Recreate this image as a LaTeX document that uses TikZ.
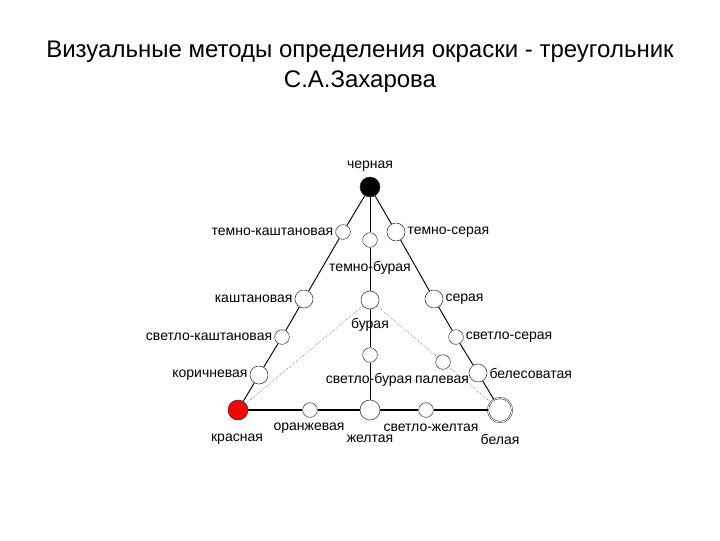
\documentclass[tikz,border=0pt]{standalone}
\usepackage{fontspec}
\setmainfont{Liberation Sans}
\usepackage{tikz}
\usetikzlibrary{positioning, calc}

\tikzset{
  spot/.style={circle, draw=black!80, thin, fill=white, inner sep=0pt, minimum size=#1},
  lbl/.style={font=\fontsize{10.5}{12}\selectfont, inner sep=1.5pt},
  edge/.style={line width=0.7pt},
  base/.style={line width=2.2pt},
  guide/.style={thin, densely dotted, black!70}
}

\begin{document}
\begin{tikzpicture}[x=0.75pt, y=-0.75pt]

\useasboundingbox (0, 0) rectangle (720, 540);

% Title
\node [font=\fontsize{18}{21}\selectfont] (title1) at (360, 52) {Визуальные методы определения окраски - треугольник};
\node [font=\fontsize{18}{21}\selectfont] (title2) at (360, 82) {С.А.Захарова};

% Corners
\node [spot=15pt, fill=black] (cherna) at (370, 187) {};
\node [spot=15pt, fill=red] (krasn) at (238, 410) {};
\node [spot=18pt, double, double distance=0.6pt] (bel) at (500, 410) {};

% Left side
\node [spot=11pt] (tkasht) at (343, 232) {};
\node [spot=13.5pt] (kasht) at (304, 299) {};
\node [spot=11pt] (skasht) at (282, 337) {};
\node [spot=13.5pt] (korich) at (259, 375) {};

% Right side
\node [spot=13.5pt] (tser) at (396, 232) {};
\node [spot=13.5pt] (ser) at (434, 299) {};
\node [spot=11pt] (sser) at (456, 337) {};
\node [spot=13.5pt] (beles) at (478, 373) {};

% Middle
\node [spot=11pt] (tbur) at (370, 240) {};
\node [spot=13.5pt] (bur) at (370, 300) {};
\node [spot=11pt] (sbur) at (370, 355) {};
\node [spot=11pt] (pal) at (443, 362) {};

% Base
\node [spot=11pt] (oranzh) at (310, 410) {};
\node [spot=15pt] (zhelt) at (370, 410) {};
\node [spot=11pt] (szhelt) at (426, 410) {};

% Connectors
\draw [edge] (cherna) -- (tkasht) -- (kasht) -- (skasht) -- (korich) -- (krasn);
\draw [edge] (cherna) -- (tser) -- (ser) -- (sser) -- (beles) -- (bel);
\draw [edge] (cherna) -- (tbur) -- (bur) -- (sbur) -- (zhelt);
\draw [base] (krasn) -- (oranzh) -- (zhelt) -- (szhelt) -- (bel);
\draw [guide] (krasn) -- (bur);
\draw [guide] (bur) -- (pal) -- (bel);

% Labels
\node [lbl] (cherna-l) at (370, 166) {черная};
\node [lbl, left] (tkasht-l) at (tkasht.west) {темно-каштановая};
\node [lbl, right] (tser-l) at (tser.east) {темно-серая};
\node [lbl] (tbur-l) at (370, 268) {темно-бурая};
\node [lbl, left] (kasht-l) at (kasht.west) {каштановая};
\node [lbl, right] (ser-l) at (ser.east) {серая};
\node [lbl] (bur-l) at (370, 325) {бурая};
\node [lbl, left] (skasht-l) at (skasht.west) {светло-каштановая};
\node [lbl, right] (sser-l) at (sser.east) {светло-серая};
\node [lbl, left] (korich-l) at (korich.west) {коричневая};
\node [lbl, right] (beles-l) at (beles.east) {белесоватая};
\node [lbl] (sbur-l) at (369, 380) {светло-бурая};
\node [lbl] (pal-l) at (442, 380) {палевая};
\node [lbl] (oranzh-l) at (309, 428) {оранжевая};
\node [lbl] (szhelt-l) at (431, 428) {светло-желтая};
\node [lbl] (krasn-l) at (237, 439) {красная};
\node [lbl] (zhelt-l) at (370, 439) {желтая};
\node [lbl] (bel-l) at (500, 439) {белая};

\end{tikzpicture}
\end{document}
